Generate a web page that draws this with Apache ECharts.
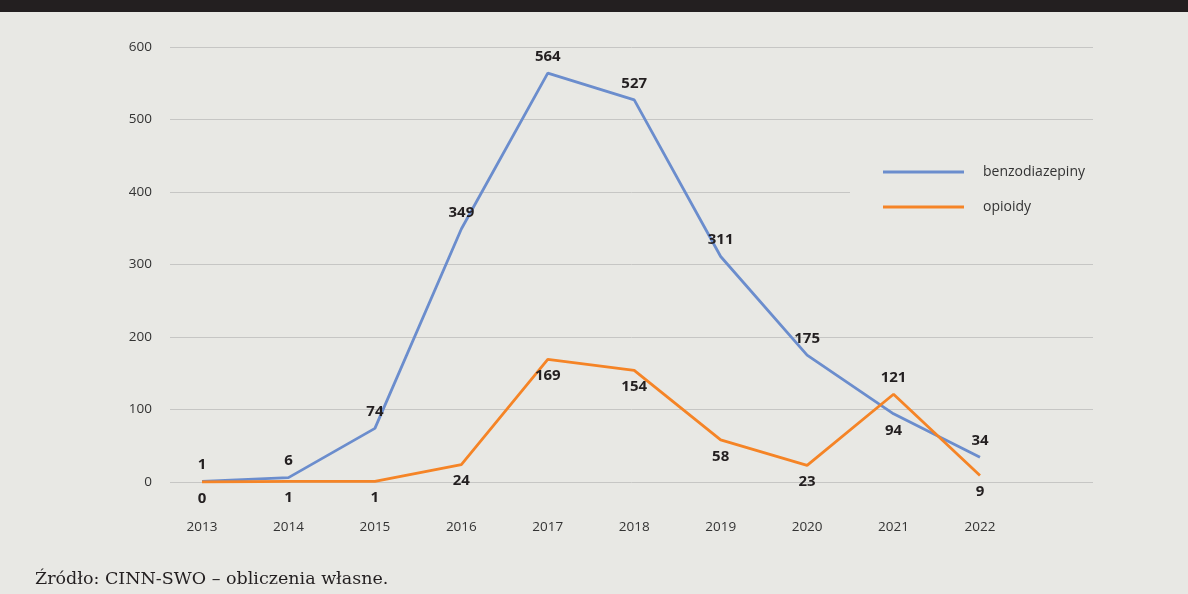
<!DOCTYPE html>
<html>
<head>
<meta charset="utf-8">
<script src="https://cdn.jsdelivr.net/npm/echarts@6/dist/echarts.min.js"></script>
<style>
  html, body { margin: 0; padding: 0; background: #e8e8e4; }
  #chart { width: 1188px; height: 594px; }
</style>
</head>
<body>
<div id="chart"></div>
<script>
// Years on the category axis
const years = ['2013', '2014', '2015', '2016', '2017', '2018', '2019', '2020', '2021', '2022'];
// Series values
const benzodiazepiny = [1, 6, 74, 349, 564, 527, 311, 175, 94, 34];
const opioidy = [0, 1, 1, 24, 169, 154, 58, 23, 121, 9];
// Value axis ticks
const yTicks = [0, 100, 200, 300, 400, 500, 600];

const BG = '#e8e8e4';
const BLUE = '#6b8dcd';
const ORANGE = '#f58426';
const TEXT = '#231f20';

// Put the label of the higher series above its point, the lower one below
function withLabels(values, other) {
  return values.map((v, i) => ({
    value: v,
    label: { position: v >= other[i] ? 'top' : 'bottom' }
  }));
}

const valueLabel = {
  show: true,
  distance: 9,
  fontFamily: 'Open Sans',
  fontWeight: 'bold',
  fontSize: 15,
  color: TEXT
};

const chart = echarts.init(document.getElementById('chart'), null, { renderer: 'canvas' });

chart.setOption({
  backgroundColor: BG,
  animation: false,
  grid: [
    // grid carrying the horizontal gridlines and value labels
    { left: 170, right: 95, top: 47, bottom: 112 },
    // grid carrying the two lines and the year labels
    { left: 158.8, right: 164.8, top: 47, bottom: 112 }
  ],
  xAxis: [
    { gridIndex: 0, type: 'value', show: false, min: 0, max: 1 },
    {
      gridIndex: 1,
      type: 'category',
      data: years,
      boundaryGap: true,
      axisLine: { show: false },
      axisTick: { show: false },
      axisLabel: {
        margin: 38,
        fontFamily: 'Open Sans',
        fontSize: 13.5,
        color: '#333333'
      }
    }
  ],
  yAxis: [
    {
      gridIndex: 0,
      type: 'value',
      min: yTicks[0],
      max: yTicks[yTicks.length - 1],
      interval: yTicks[1] - yTicks[0],
      axisLine: { show: false },
      axisTick: { show: false },
      axisLabel: {
        margin: 18,
        fontFamily: 'Open Sans',
        fontSize: 13.5,
        color: '#333333'
      },
      splitLine: { lineStyle: { color: '#c6c6c4', width: 1 } }
    },
    {
      gridIndex: 1,
      type: 'value',
      min: yTicks[0],
      max: yTicks[yTicks.length - 1],
      show: false,
      splitLine: { show: false }
    }
  ],
  legend: {
    orient: 'vertical',
    left: 850,
    top: 150,
    padding: [12, 40, 12, 33],
    backgroundColor: BG,
    itemWidth: 81,
    itemHeight: 3,
    itemGap: 15,
    icon: 'rect',
    textStyle: {
      fontFamily: 'Open Sans',
      fontSize: 14,
      color: '#333333',
      lineHeight: 20,
      padding: [0, 0, 0, 14]
    },
    data: ['benzodiazepiny', 'opioidy']
  },
  series: [
    {
      name: 'benzodiazepiny',
      type: 'line',
      xAxisIndex: 1,
      yAxisIndex: 1,
      data: withLabels(benzodiazepiny, opioidy),
      symbol: 'circle',
      symbolSize: 0.1,
      showSymbol: true,
      color: BLUE,
      itemStyle: { color: BLUE },
      lineStyle: { color: BLUE, width: 2.8 },
      label: valueLabel,
      z: 3
    },
    {
      name: 'opioidy',
      type: 'line',
      xAxisIndex: 1,
      yAxisIndex: 1,
      data: withLabels(opioidy, benzodiazepiny),
      symbol: 'circle',
      symbolSize: 0.1,
      showSymbol: true,
      color: ORANGE,
      itemStyle: { color: ORANGE },
      lineStyle: { color: ORANGE, width: 2.8 },
      label: valueLabel,
      z: 4
    }
  ],
  graphic: [
    {
      type: 'rect',
      left: 0,
      top: 0,
      shape: { width: 1188, height: 12 },
      style: { fill: '#231f20' },
      silent: true
    },
    {
      type: 'text',
      left: 35,
      top: 570,
      style: {
        text: 'Źródło: CINN-SWO – obliczenia własne.',
        font: '17.5px "DejaVu Serif"',
        fill: '#231f20'
      },
      silent: true
    }
  ]
});
</script>
</body>
</html>
